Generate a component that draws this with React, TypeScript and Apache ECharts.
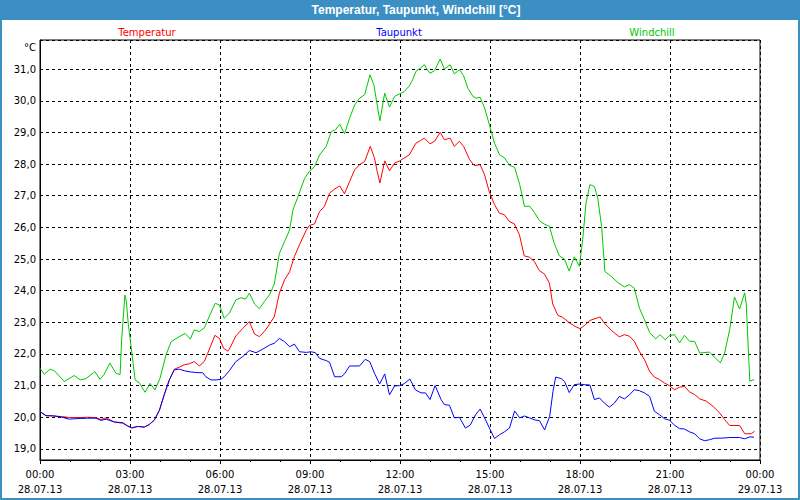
import React, { useEffect, useRef } from "react";
import * as echarts from "echarts";

const TITLE = "Temperatur, Taupunkt, Windchill [°C]";
const SERIES_NAMES = ["Temperatur", "Taupunkt", "Windchill"];
const SERIES_COLORS = ["#ff0000", "#0000ff", "#00c800"];
const DAY_LABELS = ["28.07.13", "29.07.13"];
const Y_UNIT = "°C";

// [hour, value]
const temperatur: [number, number][] = [
  [0, 20.18], [0.2, 20.05], [0.42, 20.04], [0.76, 20.02], [0.98, 19.99], [1.26, 19.99], [1.59, 20.0], [1.87, 19.99],
  [2.03, 19.93], [2.2, 19.98], [2.48, 19.85], [2.76, 19.81], [2.92, 19.73], [3.06, 19.67], [3.26, 19.71], [3.48, 19.69],
  [3.64, 19.77], [3.81, 19.91], [3.98, 20.22], [4.14, 20.71], [4.31, 21.18], [4.48, 21.52], [4.64, 21.58], [4.81, 21.66],
  [4.98, 21.69], [5.14, 21.76], [5.31, 21.62], [5.48, 21.77], [5.59, 22.02], [5.7, 22.28], [5.83, 22.59], [5.98, 22.49],
  [6.12, 22.18], [6.26, 22.09], [6.31, 22.15], [6.53, 22.57], [6.76, 22.81], [6.98, 23.02], [7.15, 22.63], [7.31, 22.55],
  [7.48, 22.71], [7.65, 22.94], [7.81, 23.18], [7.98, 23.92], [8.15, 24.34], [8.32, 24.6], [8.48, 25.08], [8.65, 25.45],
  [8.88, 25.92], [8.98, 26.06], [9.15, 26.11], [9.32, 26.5], [9.48, 26.66], [9.65, 27.08], [9.82, 27.21], [9.99, 27.31],
  [10.15, 27.06], [10.32, 27.45], [10.49, 27.82], [10.65, 27.98], [10.82, 28.08], [11.01, 28.56], [11.15, 28.19], [11.24, 27.77],
  [11.33, 27.4], [11.49, 28.1], [11.65, 27.79], [11.82, 28.03], [11.99, 28.1], [12.14, 28.19], [12.31, 28.29], [12.53, 28.66],
  [12.68, 28.74], [12.81, 28.82], [13.0, 28.64], [13.15, 28.72], [13.34, 29.0], [13.48, 28.77], [13.67, 28.82], [13.81, 28.56],
  [13.98, 28.72], [14.12, 28.56], [14.32, 28.14], [14.48, 27.95], [14.67, 27.98], [14.82, 27.66], [14.98, 27.11], [15.15, 26.72],
  [15.31, 26.45], [15.48, 26.4], [15.64, 26.19], [15.81, 26.11], [15.98, 25.77], [16.14, 25.1], [16.31, 25.06], [16.48, 24.92],
  [16.64, 24.64], [16.81, 24.53], [16.98, 24.24], [17.09, 23.58], [17.26, 23.22], [17.42, 23.16], [17.64, 22.99], [17.84, 22.87],
  [18.0, 22.8], [18.14, 22.89], [18.33, 23.06], [18.67, 23.17], [18.81, 22.98], [19.04, 22.75], [19.31, 22.54], [19.48, 22.61],
  [19.65, 22.56], [19.81, 22.4], [19.98, 22.08], [20.15, 21.82], [20.32, 21.45], [20.48, 21.27], [20.65, 21.19], [20.82, 21.08],
  [20.98, 21.0], [21.15, 20.87], [21.32, 20.95], [21.48, 20.98], [21.65, 20.8], [21.82, 20.72], [21.99, 20.58], [22.21, 20.51],
  [22.43, 20.35], [22.65, 20.14], [22.82, 19.93], [22.99, 19.74], [23.32, 19.74], [23.49, 19.48], [23.71, 19.48], [23.82, 19.56],
];

const taupunkt: [number, number][] = [
  [0, 20.18], [0.2, 20.05], [0.42, 20.05], [0.7, 20.01], [0.98, 19.94], [1.26, 19.96], [1.59, 19.97], [1.87, 19.97],
  [2.03, 19.9], [2.2, 19.94], [2.48, 19.85], [2.76, 19.83], [2.92, 19.72], [3.06, 19.66], [3.26, 19.71], [3.48, 19.69],
  [3.64, 19.77], [3.81, 19.91], [3.98, 20.22], [4.14, 20.71], [4.31, 21.18], [4.48, 21.5], [4.64, 21.52], [4.81, 21.47],
  [5.03, 21.43], [5.26, 21.41], [5.42, 21.41], [5.53, 21.28], [5.7, 21.18], [5.87, 21.18], [6.03, 21.2], [6.14, 21.28],
  [6.31, 21.47], [6.53, 21.76], [6.76, 21.92], [6.98, 22.11], [7.2, 22.04], [7.42, 22.15], [7.65, 22.28], [7.81, 22.34],
  [7.98, 22.49], [8.15, 22.39], [8.32, 22.23], [8.48, 22.31], [8.65, 22.07], [8.88, 22.05], [9.04, 22.07], [9.18, 22.04],
  [9.32, 21.86], [9.54, 21.79], [9.65, 21.74], [9.82, 21.28], [10.04, 21.28], [10.15, 21.37], [10.32, 21.62], [10.65, 21.62],
  [10.84, 21.83], [10.99, 21.76], [11.15, 21.39], [11.32, 21.05], [11.49, 21.37], [11.65, 20.71], [11.82, 20.99], [11.99, 21.0],
  [12.14, 21.06], [12.33, 21.21], [12.51, 20.87], [12.7, 20.77], [12.85, 20.77], [13.0, 20.56], [13.17, 21.0], [13.37, 20.56],
  [13.48, 20.4], [13.65, 20.38], [13.81, 19.98], [13.98, 20.0], [14.18, 19.66], [14.34, 19.75], [14.52, 20.08], [14.67, 20.26],
  [14.82, 19.98], [14.98, 19.66], [15.15, 19.33], [15.32, 19.45], [15.48, 19.54], [15.65, 19.66], [15.82, 20.2], [15.99, 19.98],
  [16.15, 20.04], [16.32, 19.98], [16.48, 19.92], [16.65, 19.89], [16.82, 19.6], [16.99, 20.03], [17.1, 20.82], [17.19, 21.27],
  [17.38, 21.22], [17.49, 21.12], [17.64, 20.78], [17.81, 21.03], [17.98, 21.05], [18.14, 21.03], [18.33, 21.02], [18.48, 20.56],
  [18.65, 20.61], [18.81, 20.45], [18.98, 20.32], [19.15, 20.45], [19.31, 20.66], [19.48, 20.58], [19.65, 20.71], [19.81, 20.87],
  [19.98, 20.84], [20.15, 20.77], [20.32, 20.66], [20.48, 20.19], [20.65, 20.08], [20.82, 19.95], [20.98, 19.91], [21.15, 19.75],
  [21.32, 19.64], [21.48, 19.63], [21.65, 19.54], [21.82, 19.48], [21.99, 19.32], [22.15, 19.26], [22.32, 19.29], [22.49, 19.34],
  [22.71, 19.34], [22.99, 19.36], [23.32, 19.36], [23.49, 19.32], [23.66, 19.38], [23.8, 19.37],
];

const windchill: [number, number][] = [
  [0, 21.55], [0.14, 21.36], [0.34, 21.52], [0.48, 21.47], [0.81, 21.13], [1.14, 21.32], [1.34, 21.18], [1.53, 21.22],
  [1.83, 21.44], [2.0, 21.2], [2.14, 21.36], [2.33, 21.71], [2.53, 21.39], [2.67, 21.35], [2.72, 22.44], [2.83, 23.86],
  [2.88, 23.65], [2.94, 22.97], [3.03, 22.28], [3.17, 21.18], [3.31, 21.09], [3.5, 20.79], [3.67, 21.07], [3.83, 20.86],
  [4.0, 21.23], [4.2, 21.97], [4.37, 22.39], [4.7, 22.58], [4.84, 22.65], [5.01, 22.47], [5.14, 22.76], [5.31, 22.71],
  [5.48, 22.83], [5.64, 23.18], [5.84, 23.6], [5.98, 23.55], [6.14, 23.13], [6.31, 23.29], [6.53, 23.71], [6.7, 23.78],
  [6.85, 23.73], [6.98, 23.92], [7.15, 23.58], [7.31, 23.43], [7.48, 23.66], [7.65, 23.87], [7.81, 24.21], [7.98, 25.18],
  [8.15, 25.55], [8.32, 25.92], [8.43, 26.55], [8.6, 26.97], [8.82, 27.55], [8.98, 27.77], [9.15, 27.92], [9.32, 28.29],
  [9.54, 28.56], [9.71, 29.03], [9.85, 29.08], [9.99, 29.26], [10.15, 28.96], [10.32, 29.45], [10.49, 29.87], [10.65, 30.08],
  [10.82, 30.19], [11.0, 30.82], [11.13, 30.5], [11.24, 29.87], [11.33, 29.37], [11.49, 30.24], [11.65, 29.8], [11.82, 30.14],
  [11.99, 30.22], [12.14, 30.29], [12.31, 30.47], [12.42, 30.66], [12.53, 30.93], [12.68, 31.03], [12.81, 31.14], [12.89, 31.01],
  [13.0, 30.87], [13.15, 30.95], [13.34, 31.32], [13.48, 31.0], [13.67, 31.14], [13.81, 30.85], [13.98, 30.98], [14.12, 30.79],
  [14.26, 30.4], [14.43, 30.14], [14.54, 30.08], [14.67, 30.11], [14.82, 29.77], [14.98, 29.24], [15.15, 28.66], [15.32, 28.29],
  [15.48, 28.2], [15.65, 27.96], [15.82, 27.9], [15.99, 27.35], [16.15, 26.66], [16.32, 26.67], [16.48, 26.47], [16.65, 26.21],
  [16.82, 26.1], [16.98, 26.03], [17.14, 25.5], [17.31, 25.1], [17.48, 25.0], [17.64, 24.62], [17.81, 25.07], [17.98, 24.77],
  [18.09, 25.61], [18.2, 26.77], [18.33, 27.35], [18.48, 27.29], [18.59, 26.93], [18.72, 26.03], [18.83, 24.61], [19.04, 24.45],
  [19.26, 24.26], [19.48, 24.12], [19.65, 24.19], [19.81, 24.08], [19.98, 23.45], [20.15, 23.08], [20.32, 22.68], [20.52, 22.48],
  [20.67, 22.61], [20.84, 22.45], [20.98, 22.58], [21.15, 22.61], [21.32, 22.35], [21.48, 22.59], [21.65, 22.4], [21.82, 22.4],
  [21.99, 22.03], [22.32, 22.06], [22.51, 21.87], [22.68, 21.72], [22.82, 22.03], [22.99, 22.77], [23.15, 23.8], [23.32, 23.42],
  [23.49, 23.93], [23.54, 23.61], [23.66, 21.14], [23.8, 21.19],
];

const FONT = "DejaVu Sans";
const FRAME_BLUE = "#3c8fc3";

export default function App() {
  const ref = useRef<HTMLDivElement>(null);

  useEffect(() => {
    if (!ref.current) return;
    const chart = echarts.init(ref.current, undefined, { renderer: "svg" });
    const legendX = [147, 399, 652];

    const option: any = {
      animation: false,
      backgroundColor: "#ffffff",
      grid: {
        left: 40,
        right: 40,
        top: 40,
        bottom: 40,
        show: true,
        borderColor: "#000000",
        borderWidth: 1,
        backgroundColor: "#ffffff",
      },
      xAxis: {
        type: "value",
        min: 0,
        max: 24,
        interval: 3,
        axisLine: { show: true, lineStyle: { color: "#000", width: 1 } },
        axisTick: { show: true, length: 4, lineStyle: { color: "#000" } },
        minorTick: { show: true, splitNumber: 3, length: 2, lineStyle: { color: "#000" } },
        splitLine: { show: true, lineStyle: { color: "#000", type: [3, 3], width: 1 } },
        axisLabel: {
          color: "#000",
          fontFamily: FONT,
          fontSize: 10,
          lineHeight: 15,
          margin: 7,
          showMinLabel: true,
          showMaxLabel: true,
          formatter: (v: number) => {
            const h = Math.round(v);
            const hh = String(h % 24).padStart(2, "0");
            const d = h >= 24 ? DAY_LABELS[1] : DAY_LABELS[0];
            return `${hh}:00\n${d}`;
          },
        },
      },
      yAxis: {
        type: "value",
        min: 18.65,
        max: 31.92,
        splitNumber: 13,
        minInterval: 1,
        maxInterval: 1,
        axisLine: { show: true, lineStyle: { color: "#000", width: 1 } },
        axisTick: { show: false },
        splitLine: { show: true, lineStyle: { color: "#000", type: [3, 3], width: 1 } },
        axisLabel: {
          color: "#000",
          fontFamily: FONT,
          fontSize: 10,
          margin: 4,
          showMinLabel: false,
          showMaxLabel: false,
          formatter: (v: number) => v.toFixed(1).replace(".", ","),
        },
      },
      series: [
        {
          name: SERIES_NAMES[0],
          type: "line",
          data: temperatur,
          showSymbol: false,
          symbol: "none",
          lineStyle: { color: SERIES_COLORS[0], width: 1 },
          z: 2,
        },
        {
          name: SERIES_NAMES[2],
          type: "line",
          data: windchill,
          showSymbol: false,
          symbol: "none",
          lineStyle: { color: SERIES_COLORS[2], width: 1 },
          z: 3,
        },
        {
          name: SERIES_NAMES[1],
          type: "line",
          data: taupunkt,
          showSymbol: false,
          symbol: "none",
          lineStyle: { color: SERIES_COLORS[1], width: 1 },
          z: 4,
        },
      ],
      graphic: [
        {
          type: "rect",
          shape: { x: 0, y: 0, width: 800, height: 20 },
          style: { fill: FRAME_BLUE },
          silent: true,
          z: 10,
        },
        {
          type: "rect",
          shape: { x: 1, y: 1, width: 798, height: 498 },
          style: { fill: "none", stroke: FRAME_BLUE, lineWidth: 2 },
          silent: true,
          z: 10,
        },
        {
          type: "text",
          x: 416,
          y: 10,
          style: {
            text: TITLE,
            fill: "#ffffff",
            font: `bold 12px "Liberation Sans"`,
            align: "center",
            verticalAlign: "middle",
          },
          z: 11,
        },
        ...SERIES_NAMES.map((n, i) => ({
          type: "text",
          x: legendX[i],
          y: 32,
          style: {
            text: n,
            fill: SERIES_COLORS[i],
            font: `10px "${FONT}"`,
            align: "center",
            verticalAlign: "middle",
          },
          z: 11,
        })),
        {
          type: "text",
          x: 36,
          y: 47,
          style: {
            text: Y_UNIT,
            fill: "#000",
            font: `10px "${FONT}"`,
            align: "right",
            verticalAlign: "middle",
          },
          z: 11,
        },
      ],
    };

    chart.setOption(option);
    return () => chart.dispose();
  }, []);

  return (
    <div
      ref={ref}
      style={{ position: "fixed", left: 0, top: 0, width: 800, height: 500 }}
    />
  );
}
